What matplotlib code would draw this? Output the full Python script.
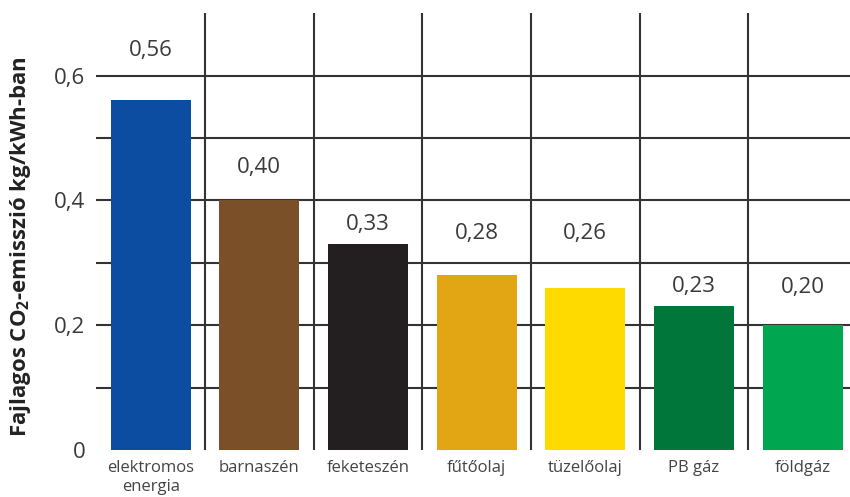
import matplotlib.pyplot as plt

categories = ['elektromos\nenergia', 'barnaszén', 'feketeszén', 'fűtőolaj',
              'tüzelőolaj', 'PB gáz', 'földgáz']
values = [0.56, 0.40, 0.33, 0.28, 0.26, 0.23, 0.20]
colors = ['#0c4da2', '#7a5028', '#231f20', '#e2a614', '#ffda00', '#00763a', '#00a650']
# how far above each bar its value label sits (points)
label_offsets = [36, 24, 14, 30, 39, 14, 27]

plt.rcParams['font.family'] = ['Open Sans', 'DejaVu Sans']
plt.rcParams['mathtext.default'] = 'regular'

fig = plt.figure(figsize=(8.5, 4.97), dpi=100)
ax = fig.add_axes([0.1133, 0.0946, 0.895, 0.879])

x = list(range(len(categories)))
ax.bar(x, values, width=0.735, color=colors, zorder=3)

# grid: horizontal lines every 0.1, vertical separators between categories
for y in [0.1, 0.2, 0.3, 0.4, 0.5, 0.6]:
    ax.plot([-0.5, 6.5], [y, y], color='#333333', lw=1.5, zorder=1,
            solid_capstyle='butt')
ax.vlines([i + 0.5 for i in x[:-1]], -0.004, 0.7, color='#333333', lw=1.5, zorder=1)

for xi, v, off in zip(x, values, label_offsets):
    ax.annotate(f'{v:.2f}'.replace('.', ','), (xi, v), xytext=(0, off),
                textcoords='offset points', ha='center', va='center',
                fontsize=16, color='#3a3a3a')

ax.set_xlim(-0.5, 6.5)
ax.set_ylim(0, 0.7)
ax.set_xticks(x)
ax.set_xticklabels(categories, fontsize=12, color='#444444', linespacing=1.25)
ax.set_yticks([0, 0.2, 0.4, 0.6])
ax.set_yticklabels(['0', '0,2', '0,4', '0,6'], fontsize=16, color='#3a3a3a')
ax.tick_params(length=0)
ax.tick_params(axis='y', pad=8)
ax.tick_params(axis='x', pad=7)
for s in ax.spines.values():
    s.set_visible(False)

ax.set_ylabel('Fajlagos CO$_2$-emisszió kg/kWh-ban', fontsize=16,
              fontweight='bold', color='#222222')
ax.yaxis.set_label_coords(-0.083, 0.465)

fig.savefig('out.png', dpi=100)
